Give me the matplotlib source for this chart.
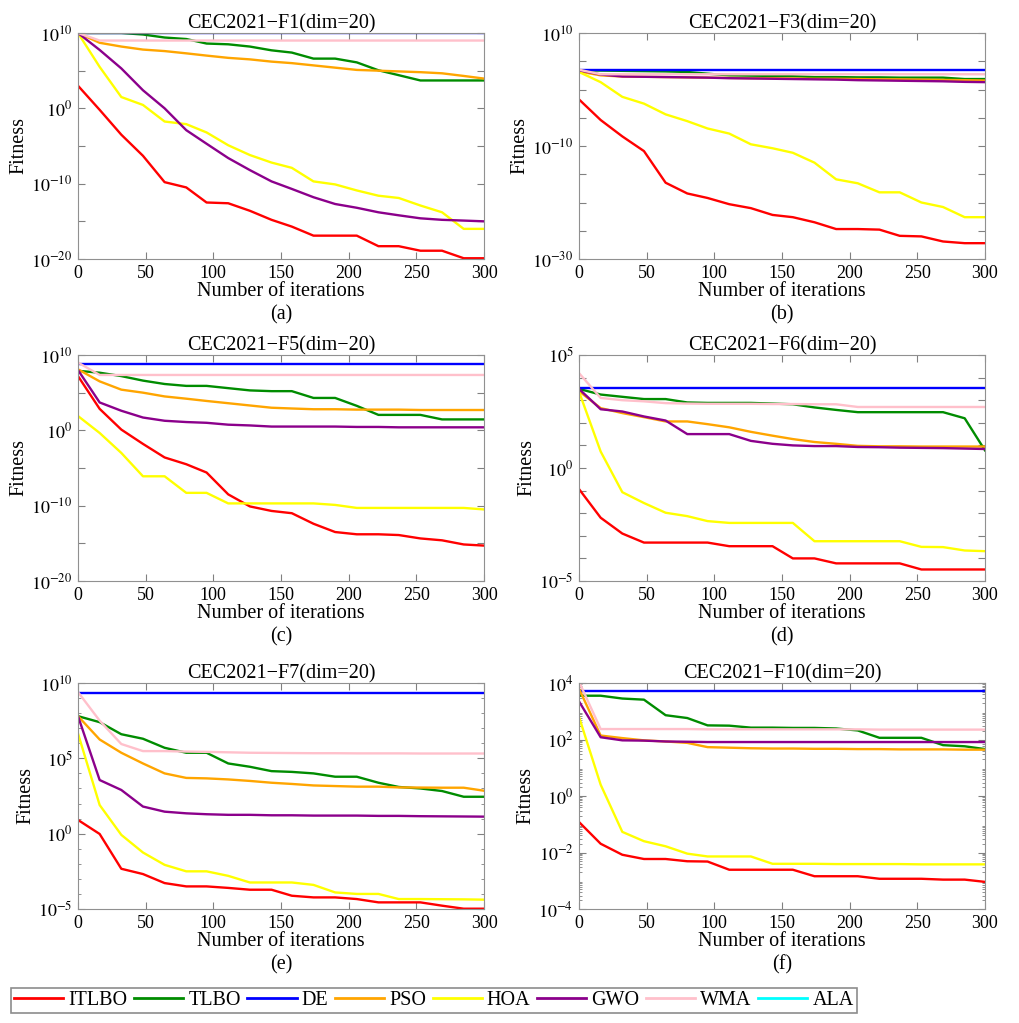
#!/usr/bin/env python3
# Convergence curves, CEC2021 functions, dim=20

import numpy as np
from matplotlib import pyplot as plt
from matplotlib.lines import Line2D
from matplotlib.ticker import FixedLocator, NullLocator, LogLocator, NullFormatter

plt.rcParams['font.family'] = ['Liberation Serif', 'DejaVu Serif']
plt.rcParams['mathtext.fontset'] = 'stix'

iters = [0, 16, 32, 48, 64, 80, 95, 111, 127, 143, 158, 174, 190, 206, 222, 237, 253, 269, 285, 300]

algos = ['ITLBO', 'TLBO', 'DE', 'PSO', 'HOA', 'GWO', 'WMA', 'ALA']
colors = ['#ff0000', '#008c00', '#0000ff', '#ffa500', '#ffff00', '#8b008b', '#ffc0cb', '#00ffff']

# log10 of fitness
f1 = {
    'ITLBO': [3.0, -0.2, -3.5, -6.3, -9.8, -10.5, -12.5, -12.6, -13.6, -14.8, -15.7, -16.9, -16.9, -16.9, -18.3, -18.3, -18.9, -18.9, -19.9, -19.9],
    'TLBO': [10, 10, 10, 9.8, 9.4, 9.2, 8.6, 8.5, 8.2, 7.7, 7.4, 6.6, 6.6, 6.1, 5.05, 4.4, 3.7, 3.7, 3.7, 3.7],
    'DE': [10] * 20,
    'PSO': [10, 8.7, 8.2, 7.8, 7.6, 7.3, 7.0, 6.7, 6.5, 6.2, 6.0, 5.7, 5.4, 5.1, 5.0, 4.9, 4.8, 4.65, 4.3, 3.95],
    'HOA': [10, 5.5, 1.5, 0.45, -1.75, -2.1, -3.2, -4.9, -6.2, -7.2, -7.9, -9.7, -10.1, -10.9, -11.6, -11.9, -12.9, -13.8, -16.0, -16.0],
    'GWO': [10, 7.75, 5.3, 2.4, 0.0, -2.9, -4.7, -6.6, -8.2, -9.7, -10.7, -11.8, -12.7, -13.2, -13.8, -14.2, -14.6, -14.8, -14.9, -15.0],
    'WMA': [10] + [9.0] * 19,
}
f3 = {
    'ITLBO': [-1.75, -5.4, -8.3, -10.9, -16.5, -18.4, -19.2, -20.3, -21.0, -22.2, -22.6, -23.5, -24.7, -24.7, -24.8, -25.9, -26.0, -26.9, -27.2, -27.2],
    'TLBO': [3.4, 3.35, 3.3, 3.25, 3.2, 3.1, 2.8, 2.5, 2.45, 2.4, 2.35, 2.2, 2.2, 2.15, 2.15, 2.1, 2.1, 2.1, 1.85, 1.85],
    'DE': [3.42] * 20,
    'PSO': [3.2, 2.5, 2.3, 2.25, 2.2, 2.15, 2.1, 2.05, 2.0, 2.0, 1.95, 1.9, 1.9, 1.85, 1.8, 1.8, 1.75, 1.7, 1.65, 1.6],
    'HOA': [3.1, 1.3, -1.3, -2.5, -4.4, -5.6, -6.9, -7.8, -9.7, -10.4, -11.2, -12.95, -15.9, -16.6, -18.2, -18.2, -20.0, -20.8, -22.6, -22.6],
    'GWO': [3.4, 2.65, 2.3, 2.25, 2.2, 2.15, 2.1, 2.0, 1.95, 1.9, 1.85, 1.8, 1.75, 1.65, 1.6, 1.55, 1.5, 1.45, 1.35, 1.3],
    'WMA': [3.5] + [2.7] * 19,
}
f5 = {
    'ITLBO': [7.2, 2.85, 0.1, -1.8, -3.6, -4.5, -5.6, -8.5, -10.1, -10.7, -11.0, -12.4, -13.5, -13.8, -13.8, -13.9, -14.35, -14.6, -15.15, -15.3],
    'TLBO': [7.9, 7.65, 7.2, 6.6, 6.15, 5.9, 5.9, 5.6, 5.3, 5.2, 5.2, 4.3, 4.3, 3.25, 2.05, 2.05, 2.05, 1.45, 1.45, 1.45],
    'DE': [8.8] * 20,
    'PSO': [8.1, 6.5, 5.4, 5.0, 4.5, 4.2, 3.9, 3.6, 3.3, 3.0, 2.9, 2.8, 2.8, 2.75, 2.75, 2.75, 2.7, 2.7, 2.7, 2.7],
    'HOA': [1.9, -0.35, -3.0, -6.1, -6.1, -8.3, -8.3, -9.7, -9.7, -9.7, -9.7, -9.7, -9.9, -10.3, -10.3, -10.3, -10.3, -10.3, -10.3, -10.5],
    'GWO': [8.0, 3.7, 2.6, 1.7, 1.27, 1.1, 1.0, 0.75, 0.65, 0.5, 0.5, 0.5, 0.5, 0.45, 0.45, 0.4, 0.4, 0.4, 0.4, 0.4],
    'WMA': [9.0] + [7.35] * 19,
}
f6 = {
    'ITLBO': [-0.93, -2.2, -2.9, -3.3, -3.3, -3.3, -3.3, -3.46, -3.46, -3.46, -4.0, -4.0, -4.22, -4.22, -4.22, -4.22, -4.49, -4.49, -4.49, -4.49],
    'TLBO': [3.5, 3.25, 3.15, 3.05, 3.05, 2.9, 2.88, 2.88, 2.88, 2.85, 2.82, 2.68, 2.57, 2.47, 2.47, 2.47, 2.47, 2.47, 2.2, 0.78],
    'DE': [3.56] * 20,
    'PSO': [3.4, 2.65, 2.43, 2.25, 2.06, 2.06, 1.94, 1.8, 1.6, 1.43, 1.28, 1.15, 1.07, 0.98, 0.96, 0.96, 0.95, 0.95, 0.95, 0.95],
    'HOA': [3.38, 0.73, -1.07, -1.55, -1.98, -2.13, -2.35, -2.43, -2.43, -2.43, -2.43, -3.24, -3.24, -3.24, -3.24, -3.24, -3.49, -3.5, -3.65, -3.68],
    'GWO': [3.5, 2.6, 2.5, 2.28, 2.1, 1.5, 1.5, 1.5, 1.2, 1.07, 1.0, 0.97, 0.97, 0.93, 0.92, 0.9, 0.89, 0.88, 0.86, 0.84],
    'WMA': [4.2, 3.1, 3.0, 2.95, 2.87, 2.85, 2.84, 2.84, 2.84, 2.83, 2.83, 2.82, 2.82, 2.7, 2.7, 2.7, 2.7, 2.7, 2.7, 2.7],
}
f7 = {
    'ITLBO': [0.91, -0.02, -2.33, -2.68, -3.28, -3.5, -3.5, -3.6, -3.72, -3.72, -4.12, -4.23, -4.23, -4.34, -4.56, -4.56, -4.56, -4.78, -4.98, -4.98],
    'TLBO': [7.8, 7.4, 6.6, 6.3, 5.7, 5.37, 5.37, 4.66, 4.44, 4.15, 4.1, 4.0, 3.78, 3.78, 3.38, 3.1, 3.0, 2.83, 2.45, 2.45],
    'DE': [9.36] * 20,
    'PSO': [7.8, 6.25, 5.37, 4.66, 4.0, 3.7, 3.67, 3.6, 3.5, 3.38, 3.3, 3.2, 3.16, 3.12, 3.12, 3.07, 3.06, 3.05, 3.05, 2.85],
    'HOA': [6.65, 1.9, -0.08, -1.25, -2.07, -2.5, -2.5, -2.8, -3.24, -3.24, -3.24, -3.4, -3.9, -4.0, -4.0, -4.34, -4.34, -4.35, -4.36, -4.38],
    'GWO': [7.8, 3.56, 2.9, 1.8, 1.46, 1.35, 1.29, 1.25, 1.25, 1.22, 1.22, 1.2, 1.2, 1.2, 1.18, 1.18, 1.16, 1.15, 1.14, 1.13],
    'WMA': [9.4, 7.5, 5.95, 5.48, 5.48, 5.45, 5.43, 5.4, 5.37, 5.36, 5.35, 5.34, 5.34, 5.33, 5.33, 5.33, 5.32, 5.32, 5.32, 5.32],
}
f10 = {
    'ITLBO': [-0.92, -1.69, -2.08, -2.23, -2.23, -2.31, -2.32, -2.61, -2.61, -2.61, -2.61, -2.84, -2.84, -2.84, -2.93, -2.93, -2.93, -2.96, -2.96, -3.04],
    'TLBO': [3.55, 3.55, 3.45, 3.41, 2.86, 2.76, 2.5, 2.49, 2.42, 2.42, 2.41, 2.41, 2.39, 2.32, 2.06, 2.06, 2.06, 1.8, 1.76, 1.66],
    'DE': [3.73] * 20,
    'PSO': [3.8, 2.14, 2.05, 1.97, 1.93, 1.88, 1.73, 1.71, 1.69, 1.68, 1.68, 1.67, 1.67, 1.66, 1.66, 1.65, 1.65, 1.65, 1.64, 1.64],
    'HOA': [2.8, 0.4, -1.27, -1.6, -1.78, -2.04, -2.14, -2.14, -2.14, -2.4, -2.4, -2.4, -2.41, -2.41, -2.41, -2.41, -2.42, -2.42, -2.42, -2.42],
    'GWO': [3.35, 2.08, 1.97, 1.96, 1.93, 1.92, 1.91, 1.91, 1.91, 1.91, 1.91, 1.91, 1.91, 1.91, 1.91, 1.91, 1.91, 1.91, 1.91, 1.91],
    'WMA': [4.05, 2.37, 2.37, 2.37, 2.37, 2.37, 2.36, 2.36, 2.36, 2.36, 2.36, 2.36, 2.36, 2.36, 2.35, 2.35, 2.35, 2.35, 2.35, 2.35],
}

titles = ['CEC2021\u2212F1(dim=20)', 'CEC2021\u2212F3(dim=20)', 'CEC2021\u2212F5(dim\u221220)',
          'CEC2021\u2212F6(dim\u221220)', 'CEC2021\u2212F7(dim=20)', 'CEC2021\u2212F10(dim=20)']
panels = ['(a)', '(b)', '(c)', '(d)', '(e)', '(f)']
datas = [f1, f3, f5, f6, f7, f10]
ylims = [(-20, 10), (-30, 10), (-20, 10), (-5, 5), (-5, 10), (-4, 4)]
tick_steps = [5, 5, 5, 1, 5, 2]
label_steps = [10, 20, 10, 5, 5, 2]
minor = [None, None, None, None, 'decade', 'log']

fig = plt.figure(figsize=(10.19, 10.23), dpi=100)
W, H = 1019, 1023
boxes = [(78, 33), (579, 33), (78, 355), (579, 355), (78, 683), (579, 683)]
aw, ah = 406, 226

for i in range(6):
    x0, y0 = boxes[i]
    ax = fig.add_axes([x0 / W, 1 - (y0 + ah) / H, aw / W, ah / H])
    for name, c in zip(algos, colors):
        if name in datas[i]:
            ax.plot(iters, 10.0 ** np.array(datas[i][name]), color=c, lw=1.7)
    ax.set_yscale('log')
    lo, hi = ylims[i]
    ax.set_ylim(10.0 ** lo, 10.0 ** hi)
    ax.set_xlim(0, 300)
    ax.set_xticks([0, 50, 100, 150, 200, 250, 300])
    exps = list(range(lo, hi + 1, tick_steps[i]))
    ax.set_yticks([10.0 ** e for e in exps])
    ax.set_yticklabels([r'$10^{%d}$' % e if (e - lo) % label_steps[i] == 0 else '' for e in exps])
    ax.xaxis.set_minor_locator(NullLocator())
    if minor[i] == 'decade':
        ax.yaxis.set_minor_locator(FixedLocator([10.0 ** e for e in range(lo, hi + 1)]))
    elif minor[i] == 'log':
        ax.yaxis.set_minor_locator(LogLocator(base=10, subs=np.arange(2, 10), numticks=50))
    else:
        ax.yaxis.set_minor_locator(NullLocator())
    ax.yaxis.set_minor_formatter(NullFormatter())
    ax.tick_params(which='both', direction='in', top=True, right=True, color='#808080', labelsize=13, pad=4)
    ax.tick_params(which='major', length=5)
    ax.tick_params(which='minor', length=2.5)
    for s in ax.spines.values():
        s.set_color('#909090')
    ax.set_title(titles[i], fontsize=14.5, pad=2)
    ax.set_xlabel('Number of iterations', fontsize=14.5, labelpad=0)
    ax.set_ylabel('Fitness', fontsize=14.5, labelpad=2)
    fig.text((x0 + aw / 2) / W, 1 - (y0 + ah + 56) / H, panels[i], ha='center', va='center', fontsize=14.5)

handles = [Line2D([], [], color=c, lw=2) for c in colors]
leg = fig.legend(handles, algos, loc='lower left', bbox_to_anchor=(11 / W, 10 / H), ncol=8,
                 fontsize=14.5, handlelength=2.45, handletextpad=0.25, columnspacing=0.32,
                 frameon=True, fancybox=False, borderpad=0.15, borderaxespad=0)
leg.get_frame().set_edgecolor('#707070')
leg.get_frame().set_linewidth(1.2)

plt.savefig('out.png', dpi=100)
